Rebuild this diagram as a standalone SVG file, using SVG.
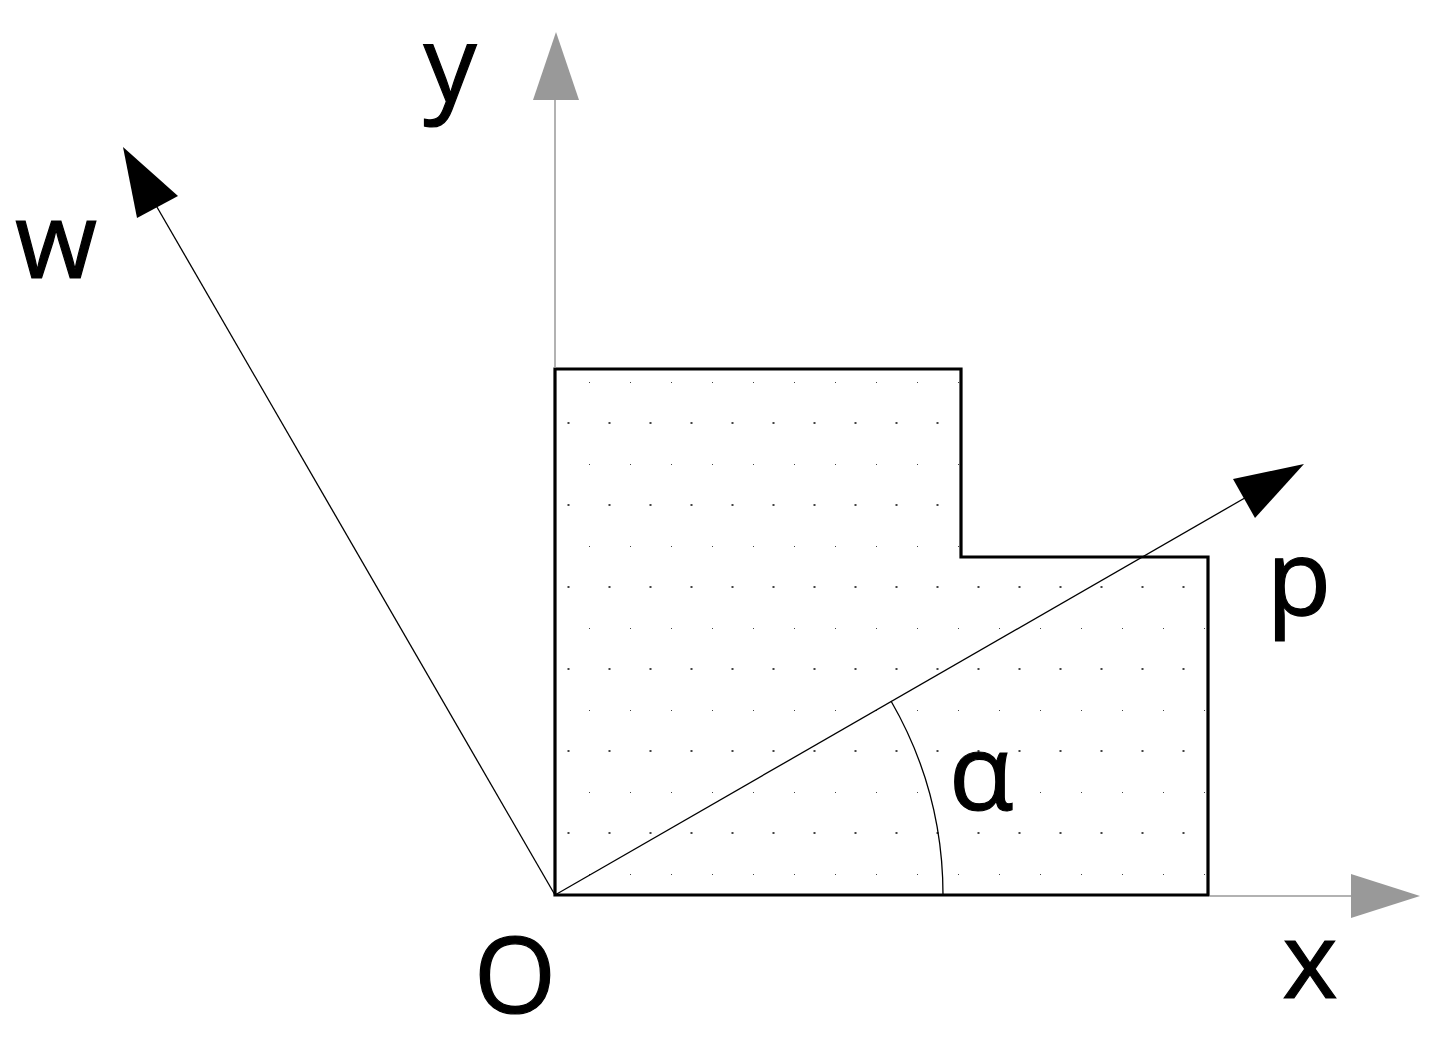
<svg xmlns="http://www.w3.org/2000/svg" width="1445" height="1039" viewBox="0 0 1445 1039">
<style>
.lbl{font-family:"Open Sans","DejaVu Sans",sans-serif;font-size:106px;fill:#000;stroke:#000;stroke-width:1.2;text-anchor:middle}
.axis{stroke:#999;stroke-width:1.5;fill:none}
.vec{stroke:#000;stroke-width:1.3;fill:none}
</style>
<defs>
<pattern id="dots" x="0" y="0" width="41" height="82" patternUnits="userSpaceOnUse" patternTransform="translate(589 382)">
<rect x="-1" y="-1" width="2" height="2" fill="#444"/>
<rect x="-21.5" y="40" width="2" height="2" fill="#444"/>
<rect x="19.5" y="40" width="2" height="2" fill="#444"/>
</pattern>
</defs>
<rect width="1445" height="1039" fill="#fff"/>
<g id="shape">
<path d="M555 369 H961 V557 H1208 V895 H555 Z" fill="url(#dots)" stroke="#000" stroke-width="3.2"/>
</g>
<g id="connectors">
<line class="axis" x1="555" y1="368" x2="555" y2="100"/>
<polygon points="556,32 533,100 579,100" fill="#999"/>
<line class="axis" x1="1210" y1="896" x2="1352" y2="896"/>
<polygon points="1420,896 1351,874 1351,918" fill="#999"/>
<line class="vec" x1="555" y1="895" x2="150" y2="195"/>
<polygon points="123,147 178,196 137,218" fill="#000"/>
<line class="vec" x1="555" y1="895" x2="1250" y2="495"/>
<polygon points="1304,464 1233,479 1255,518" fill="#000"/>
<path class="vec" d="M891 701 A388 388 0 0 1 943 895"/>
</g>
<g id="labels">
<text class="lbl" x="450" y="102">y</text>
<text class="lbl" x="56" y="278">w</text>
<text class="lbl" x="1299" y="616">p</text>
<text class="lbl" x="981" y="810">α</text>
<text class="lbl" x="515" y="1013">O</text>
<text class="lbl" x="1310" y="998">x</text>
</g>
</svg>
